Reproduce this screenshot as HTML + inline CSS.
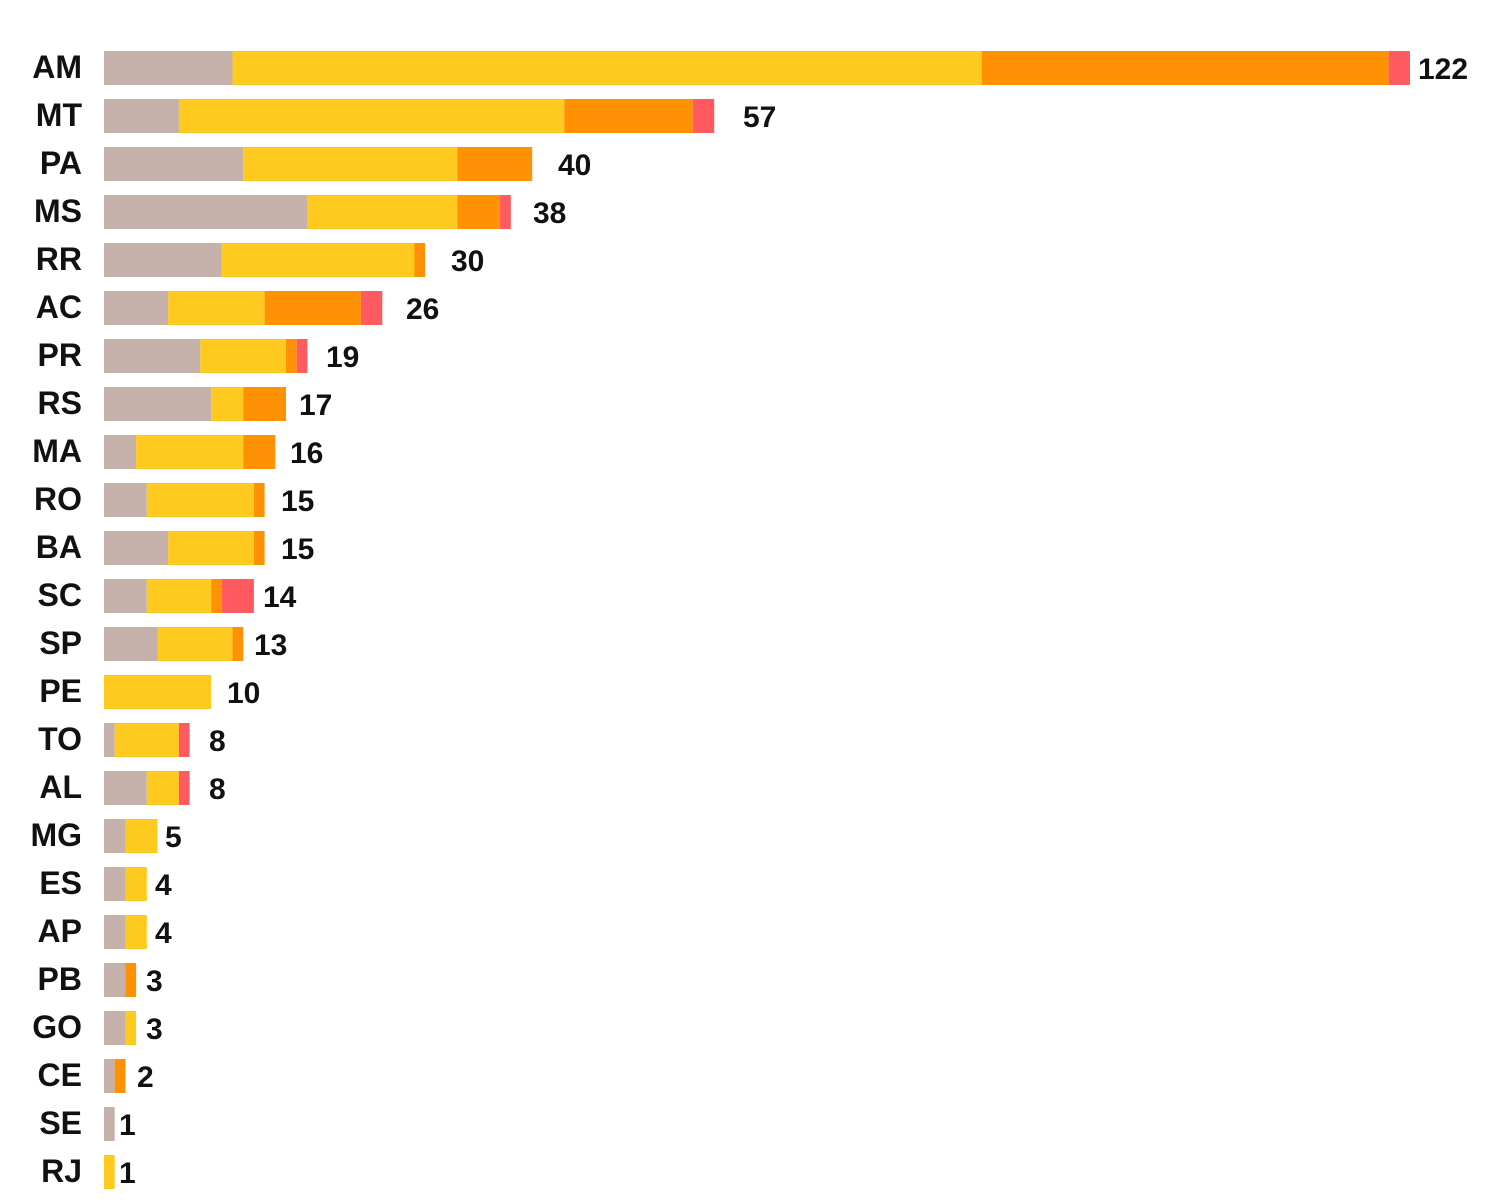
<!DOCTYPE html>
<html><head><meta charset="utf-8"><style>
html,body{margin:0;padding:0;background:#fff;width:1500px;height:1200px;overflow:hidden}
text{font-family:"Liberation Sans",sans-serif;font-weight:bold;fill:#111}
</style></head><body>
<svg width="1500" height="1200" xmlns="http://www.w3.org/2000/svg" id="s"></svg>
<script>
const rows=[
["AM",[12,70,38,2],1418],["MT",[7,36,12,2],743],["PA",[13,20,7,0],558],["MS",[19,14,4,1],533],
["RR",[11,18,1,0],451],["AC",[6,9,9,2],406],["PR",[9,8,1,1],326],["RS",[10,3,4,0],299],
["MA",[3,10,3,0],290],["RO",[4,10,1,0],281],["BA",[6,8,1,0],281],["SC",[4,6,1,3],263],
["SP",[5,7,1,0],254],["PE",[0,10,0,0],227],["TO",[1,6,0,1],209],["AL",[4,3,0,1],209],
["MG",[2,3,0,0],165],["ES",[2,2,0,0],155],["AP",[2,2,0,0],155],["PB",[2,0,1,0],146],
["GO",[2,1,0,0],146],["CE",[1,0,1,0],137],["SE",[1,0,0,0],119],["RJ",[0,1,0,0],119]];
const col=["#c6b1aa","#ffca1f","#ff9105","#ff5a5f"],k=10.705,x0=104;
let h="";
rows.forEach((r,i)=>{const cy=68+i*48;let x=x0,tot=0;
r[1].forEach((v,j)=>{if(v>0){const w=v*k;h+=`<rect x="${x.toFixed(1)}" y="${cy-17}" width="${w.toFixed(1)}" height="34" fill="${col[j]}"/>`;x+=w;tot+=v;}});
h+=`<text x="82" y="${cy+10}" text-anchor="end" font-size="32">${r[0]}</text>`;
h+=`<text x="${r[2]}" y="${cy+11}" font-size="30">${tot}</text>`;});
document.getElementById("s").innerHTML=h;
</script>
</body></html>
